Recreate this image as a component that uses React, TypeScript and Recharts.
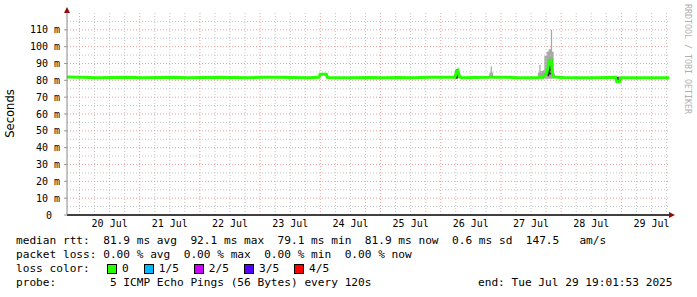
import { ComposedChart, Line, Area, XAxis, YAxis, ReferenceLine } from "recharts";

// hours since Jul 19 19:00
const hours = [
  0, 6, 12, 18, 24, 30, 36, 42, 48, 54, 60, 66, 72, 78, 84, 90, 96, 100.4, 100.9, 103.4, 103.9,
  108, 114, 120, 126, 132, 138, 144, 150, 154.6, 155.2, 155.8, 156.6, 157.4, 162, 168.2, 169.0,
  169.8, 175, 180, 186, 187.7, 188.7, 189.7, 190.5, 191.3, 192.3, 193.0, 193.6, 194.4, 198, 204,
  210, 216, 218.6, 219.2, 220.4, 221.0, 226, 232, 240,
];
const medianRtt = [
  82.0, 81.9, 81.6, 81.7, 81.9, 81.6, 81.7, 81.8, 81.6, 81.7, 81.9, 81.7, 81.6, 81.8, 81.9, 81.7,
  81.6, 81.8, 83.6, 83.6, 81.7, 81.5, 81.6, 81.7, 81.5, 81.7, 81.6, 81.8, 81.8, 81.8, 84.5, 85.8,
  82.0, 81.6, 81.7, 81.9, 82.1, 81.9, 81.8, 81.6, 81.5, 81.6, 82.0, 81.7, 83.5, 84.5, 91.5, 92.0,
  83.0, 82.0, 81.7, 81.5, 81.6, 81.7, 81.8, 79.2, 79.4, 81.6, 81.6, 81.5, 81.6,
];

// light smoke (min..max of the 5 pings)
const smokeHours = [
  155.0, 156.2, 156.6, 168.4, 168.9, 169.4, 169.9, 187.7, 188.3, 188.8, 189.8, 190.3, 191.2, 192.0,
  192.9, 193.4, 194.0, 194.5, 218.9, 220.6,
];
const smokeLow = [
  81.3, 81.6, 82, 81.6, 81.6, 81.6, 82, 81.3, 81.3, 81.3, 81.2, 81.0, 81.0, 81.0, 81.0, 81.0, 81.5,
  82, 78.8, 82,
];
const smokeHigh = [
  86.8, 82.6, 82, 84.6, 88.3, 84.6, 82, 84.7, 89.2, 85.5, 86.2, 94.5, 97.0, 98.5, 110, 97, 84, 82,
  82.4, 82,
];

// dark smoke near the median
const coreHours = [100.6, 101.0, 103.2, 103.6, 154.8, 155.8, 191.6, 192.2, 193.5, 218.8, 219.9];
const coreLow = [81.6, 82, 81.6, 82, 81.0, 82, 82.5, 83.5, 82, 78.6, 82];
const coreHigh = [84.3, 82, 84.3, 82, 86.3, 82, 89, 92.5, 82, 82.0, 82];

const dayLabels = ["20 Jul", "21 Jul", "22 Jul", "23 Jul", "24 Jul", "25 Jul", "26 Jul", "27 Jul", "28 Jul", "29 Jul"];
const dayNoons = [17, 41, 65, 89, 113, 137, 161, 185, 209, 233];
const midnights = [5, 29, 53, 77, 101, 125, 149, 173, 197, 221];
const sixHours = [11, 17, 23, 35, 41, 47, 59, 65, 71, 83, 89, 95, 107, 113, 119, 131, 137, 143, 155, 161, 167, 179, 185, 191, 203, 209, 215, 227, 233, 239];
const yTicks = [0, 10, 20, 30, 40, 50, 60, 70, 80, 90, 100, 110];
const yMinor = [5, 15, 25, 35, 45, 55, 65, 75, 85, 95, 105, 115];

const lossLabels = ["0", "1/5", "2/5", "3/5", "4/5"];
const lossColors = ["#26ff00", "#00b8ff", "#cc00ff", "#5500ff", "#ff0000"];

const medianData = hours.map((t, i) => ({ t, median: medianRtt[i] }));
const smokeData = smokeHours.map((t, i) => ({ t, range: [smokeLow[i], smokeHigh[i]] }));
const coreData = coreHours.map((t, i) => ({ t, range: [coreLow[i], coreHigh[i]] }));

const mono = "'DejaVu Sans Mono', monospace";
const minorColor = "#c4c4c4";
const majorColor = "#e8a0a0";

const XTick = (p: any) => (
  <text x={p.x} y={p.y} dy="0.71em" textAnchor="middle" fontFamily={mono} fontSize={10} fill="#000">
    {dayLabels[dayNoons.indexOf(p.payload.value)]}
  </text>
);

const YTick = (p: any) => {
  const v = p.payload.value;
  return (
    <text x={v === 0 ? p.x - 8 : p.x} y={p.y} dy="0.35em" textAnchor="end" fontFamily={mono} fontSize={10} fill="#000">
      {v === 0 ? "0" : `${v} m`}
    </text>
  );
};

const rows = [
  "median rtt:  81.9 ms avg  92.1 ms max  79.1 ms min  81.9 ms now  0.6 ms sd  147.5   am/s",
  "packet loss: 0.00 % avg  0.00 % max  0.00 % min  0.00 % now",
];

export default function App() {
  return (
    <div style={{ position: "absolute", left: 0, top: 0, width: 697, height: 297, background: "#fff" }}>
      <ComposedChart
        width={697}
        height={240}
        data={medianData}
        margin={{ top: 13, right: 28, left: 7, bottom: 0 }}
      >
        <XAxis
          dataKey="t"
          type="number"
          domain={[0, 240]}
          ticks={dayNoons}
          tick={<XTick />}
          interval={0}
          tickLine={false}
          tickSize={0}
          tickMargin={5}
          height={25}
          axisLine={{ stroke: "#000", strokeWidth: 1.5 }}
          allowDataOverflow
        />
        <YAxis
          type="number"
          domain={[0, 120]}
          ticks={yTicks}
          tick={<YTick />}
          interval={0}
          tickLine={{ stroke: "#999" }}
          tickSize={3}
          tickMargin={4}
          width={60}
          axisLine={{ stroke: "#888" }}
          allowDataOverflow
        />
        {yMinor.map((v) => (
          <ReferenceLine key={`ym${v}`} y={v} stroke={minorColor} strokeDasharray="1 2" />
        ))}
        {sixHours.map((v) => (
          <ReferenceLine key={`xm${v}`} x={v} stroke={minorColor} strokeDasharray="1 2" />
        ))}
        {yTicks.slice(1).map((v) => (
          <ReferenceLine key={`yM${v}`} y={v} stroke={majorColor} strokeDasharray="1 2" />
        ))}
        {midnights.map((v) => (
          <ReferenceLine key={`xM${v}`} x={v} stroke={majorColor} strokeDasharray="1 2" />
        ))}
        <Area
          data={smokeData}
          dataKey="range"
          type="stepAfter"
          fill="#a8a8a8"
          fillOpacity={1}
          stroke="none"
          isAnimationActive={false}
        />
        <Area
          data={coreData}
          dataKey="range"
          type="stepAfter"
          fill="#2a2a2a"
          fillOpacity={1}
          stroke="none"
          isAnimationActive={false}
        />
        <Line
          dataKey="median"
          type="linear"
          stroke="#26ff00"
          strokeWidth={3}
          dot={false}
          isAnimationActive={false}
        />
      </ComposedChart>

      <svg width={697} height={297} style={{ position: "absolute", left: 0, top: 0, pointerEvents: "none" }}>
        <line x1={67} y1={8} x2={67} y2={13} stroke="#888" />
        <polygon points="64,13 70,13 67,7" fill="#8b1010" />
        <polygon points="669,212 669,218 675,215" fill="#8b1010" />
        <text
          transform="translate(14,113.5) rotate(-90)"
          textAnchor="middle"
          fontFamily="'DejaVu Sans', sans-serif"
          fontSize={11.6}
          fill="#000"
        >
          Seconds
        </text>
        <text transform="translate(685,4) rotate(90)" fontFamily={mono} fontSize={8.3} fill="#b0b0b0">
          RRDTOOL / TOBI OETIKER
        </text>
      </svg>

      <div style={{ position: "absolute", left: 16, top: 234, fontFamily: mono, fontSize: 11.15, lineHeight: "14px", color: "#000", whiteSpace: "pre" }}>
        <div>{rows[0]}</div>
        <div>{rows[1]}</div>
        <div style={{ position: "relative", height: 14 }}>
          <span>loss color:</span>
          <div style={{ position: "absolute", left: 91, top: 0, display: "flex", alignItems: "center", height: 14 }}>
            {lossLabels.map((l, i) => (
              <div key={l} style={{ display: "flex", alignItems: "center", marginRight: 15 }}>
                <span style={{ display: "inline-block", width: 8, height: 8, background: lossColors[i], border: "1px solid #000", marginRight: 5 }} />
                <span>{l}</span>
              </div>
            ))}
          </div>
        </div>
        <div style={{ position: "relative", height: 14 }}>
          <span>probe:        5 ICMP Echo Pings (56 Bytes) every 120s</span>
          <span style={{ position: "absolute", left: 462 }}>end: Tue Jul 29 19:01:53 2025</span>
        </div>
      </div>
    </div>
  );
}
